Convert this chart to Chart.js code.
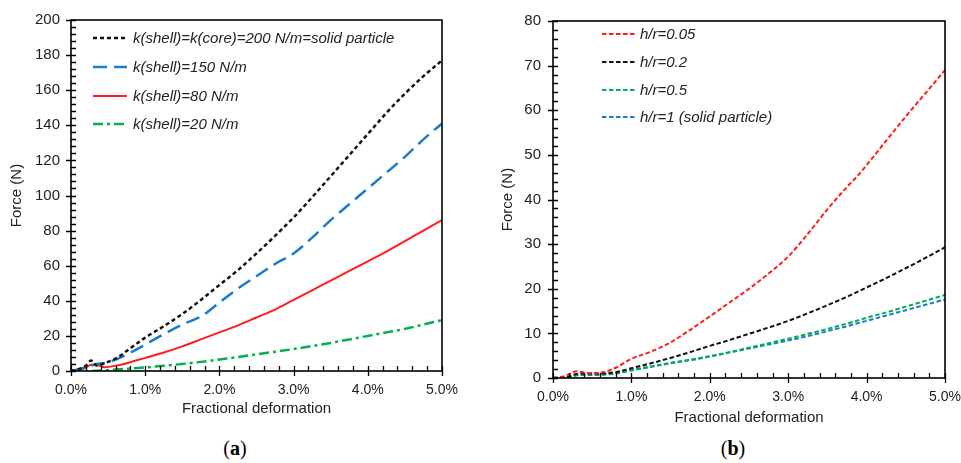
<!DOCTYPE html>
<html>
<head>
<meta charset="utf-8">
<script src="https://cdn.jsdelivr.net/npm/chart.js@4.4.1/dist/chart.umd.min.js"></script>
<style>
    html, body { margin: 0; padding: 0; background: #fff; overflow: hidden; }
    body { width: 961px; height: 463px; position: relative; }
    canvas { position: absolute; top: 0; }
    #chartA { left: 0; }
    #chartB { left: 480px; }
    .cap { position: absolute; top: 437px; font-family: "Liberation Serif", "DejaVu Serif", serif; font-size: 20px; color: #000; transform: translateX(-50%); }
</style>
</head>
<body>
<canvas id="chartA" width="480" height="420"></canvas>
<canvas id="chartB" width="520" height="430"></canvas>
<div class="cap" style="left:235px">(<b>a</b>)</div>
<div class="cap" style="left:733px">(<b>b</b>)</div>

<script>
// panel (a): fractional deformation in %, force in N
const xA = [0, 0.1, 0.2, 0.27, 0.35, 0.45, 0.6, 0.8, 1.0, 1.25, 1.5, 1.75, 2.0, 2.25, 2.5, 2.75, 3.0, 3.25, 3.5, 3.75, 4.0, 4.25, 4.5, 4.75, 5.0];
const solidA = [0, 1, 3, 6, 3, 4.5, 7, 13, 19, 25.5, 32.5, 40.5, 49, 57.5, 67, 77, 87.5, 99, 111, 123, 135, 147, 158, 168, 177];
const shell150 = [0, 1, 2, 3, 4, 4.5, 6.5, 10.5, 15, 21, 26.5, 31, 39, 47, 54, 61, 67, 76, 86, 95, 104, 113, 122, 132, 141];
const shell80 = [0, 0.5, 2, 3.5, 3.5, 2.2, 3, 5, 7.5, 10.5, 14, 18, 22, 26, 30.5, 35, 40.5, 46, 51.5, 57, 62.5, 68, 74, 80, 86];
const shell20 = [0, 0, 0, 0, 0.2, 0.4, 0.8, 1.5, 2, 3, 4, 5.2, 6.5, 8, 9.5, 11, 12.5, 14.2, 16, 18, 20, 22, 24, 26.5, 29];
const labelsA = ["k(shell)=k(core)=200 N/m=solid particle", "k(shell)=150 N/m", "k(shell)=80 N/m", "k(shell)=20 N/m"];

// panel (b)
const xB = [0, 0.1, 0.2, 0.3, 0.4, 0.5, 0.6, 0.7, 0.8, 1.0, 1.25, 1.5, 1.75, 2.0, 2.25, 2.5, 2.75, 3.0, 3.25, 3.5, 3.75, 3.87, 4.0, 4.25, 4.5, 4.75, 5.0];
const hr005 = [0, 0.2, 0.8, 1.5, 1.2, 1.0, 1.2, 1.6, 2.3, 4.3, 5.9, 8.0, 10.8, 13.8, 16.9, 20.0, 23.4, 27.2, 32.3, 37.8, 42.8, 45, 47.7, 53.2, 58.6, 63.8, 69];
const hr02 = [0, 0.1, 0.3, 0.9, 1.0, 1.0, 1.0, 1.1, 1.3, 2.2, 3.3, 4.5, 5.8, 7.2, 8.5, 9.9, 11.3, 12.8, 14.5, 16.3, 18.2, 19.2, 20.3, 22.4, 24.6, 26.9, 29.3];
const hr05 = [0, 0.1, 0.2, 0.6, 0.8, 0.8, 0.8, 0.9, 1.1, 1.8, 2.6, 3.4, 4.1, 4.9, 5.8, 6.8, 7.8, 8.8, 9.9, 11.0, 12.2, 12.8, 13.5, 14.7, 16.0, 17.3, 18.6];
const hr1 = [0, 0.1, 0.2, 0.6, 0.7, 0.7, 0.7, 0.8, 1.0, 1.7, 2.5, 3.3, 4.0, 4.8, 5.7, 6.6, 7.5, 8.4, 9.4, 10.5, 11.6, 12.2, 12.8, 14.0, 15.2, 16.4, 17.6];
const labelsB = ["h/r=0.05", "h/r=0.2", "h/r=0.5", "h/r=1 (solid particle)"];

const xTicks = [0, 1, 2, 3, 4, 5];

function pts(xs, ys) {
    return xs.map((x, i) => ({ x: x, y: ys[i] }));
}

function line(label, xs, ys, color, width, dash) {
    return {
        label: label,
        data: pts(xs, ys),
        borderColor: color,
        borderWidth: width,
        borderDash: dash,
        pointRadius: 0,
        cubicInterpolationMode: "monotone",
        fill: false
    };
}

// frame, inside minor ticks and crossing major ticks
const frameTicks = {
    id: "frameTicks",
    afterDraw(chart, args, opts) {
        const ctx = chart.ctx;
        const a = chart.chartArea;
        const xs = chart.scales.x, ys = chart.scales.y;
        ctx.save();
        ctx.strokeStyle = "#000";
        ctx.lineWidth = 1.3;
        ctx.beginPath();
        for (let i = 0; i <= 25; i++) {
            const v = i * 0.2;
            const px = Math.round(xs.getPixelForValue(v)) + 0.5;
            const major = i % 5 === 0;
            ctx.moveTo(px, a.bottom - 5);
            ctx.lineTo(px, a.bottom + (major ? 5 : 0));
        }
        const n = Math.round(opts.yMax / opts.yMinor);
        const per = Math.round(opts.yMajor / opts.yMinor);
        for (let i = 0; i <= n; i++) {
            const py = Math.round(ys.getPixelForValue(i * opts.yMinor)) + 0.5;
            const major = i % per === 0;
            ctx.moveTo(a.left + 5, py);
            ctx.lineTo(a.left - (major ? 5 : 0), py);
        }
        ctx.stroke();
        ctx.lineWidth = 1.6;
        ctx.strokeRect(a.left, a.top, a.right - a.left, a.bottom - a.top);
        ctx.restore();
    }
};

// legend drawn inside the plot area
const innerLegend = {
    id: "innerLegend",
    afterDraw(chart, args, opts) {
        const ctx = chart.ctx;
        ctx.save();
        ctx.font = "italic 15px 'Liberation Sans', Arial, sans-serif";
        ctx.textBaseline = "middle";
        ctx.fillStyle = "#222";
        chart.data.datasets.forEach((ds, i) => {
            const y = opts.rows[i];
            ctx.strokeStyle = ds.borderColor;
            ctx.lineWidth = ds.borderWidth;
            ctx.setLineDash(ds.borderDash || []);
            ctx.beginPath();
            ctx.moveTo(opts.x0, y);
            ctx.lineTo(opts.x1, y);
            ctx.stroke();
            ctx.setLineDash([]);
            ctx.fillText(ds.label, opts.tx, y + 1);
        });
        ctx.restore();
    }
};

function makeOptions(cfg) {
    const xFont = { family: "'Liberation Sans', Arial, sans-serif", size: 14 };
    const yFont = { family: "'Liberation Sans', Arial, sans-serif", size: 15 };
    const titleFont = { family: "'Liberation Sans', Arial, sans-serif", size: 15 };
    return {
        responsive: false,
        animation: false,
        layout: { padding: { top: cfg.top, right: cfg.right, left: 0, bottom: 0 } },
        plugins: {
            legend: { display: false },
            tooltip: { enabled: false },
            frameTicks: { yMax: cfg.yMax, yMinor: cfg.yMinor, yMajor: cfg.yStep },
            innerLegend: cfg.legend
        },
        scales: {
            x: {
                type: "linear",
                min: 0,
                max: 5,
                afterBuildTicks: s => { s.ticks = xTicks.map(v => ({ value: v })); },
                afterFit: s => { s.height = cfg.xHeight; },
                grid: { display: false, drawTicks: false },
                border: { display: false },
                ticks: {
                    color: "#222",
                    font: xFont,
                    padding: 11,
                    maxRotation: 0,
                    autoSkip: false,
                    callback: v => v.toFixed(1) + "%"
                },
                title: { display: true, text: "Fractional deformation", color: "#222", font: titleFont, padding: { top: 0, bottom: cfg.xTitlePad } }
            },
            y: {
                min: 0,
                max: cfg.yMax,
                afterFit: s => { s.width = cfg.yWidth; },
                grid: { display: false, drawTicks: false },
                border: { display: false },
                ticks: { stepSize: cfg.yStep, color: "#222", font: yFont, padding: cfg.yPad },
                title: { display: true, text: "Force (N)", color: "#222", font: titleFont, padding: { top: cfg.yTitlePad, bottom: 0 } }
            }
        }
    };
}

new Chart(document.getElementById("chartA"), {
    type: "line",
    data: {
        datasets: [
            line(labelsA[0], xA, solidA, "#111111", 2.5, [4, 3]),
            line(labelsA[1], xA, shell150, "#1a7ccc", 2.5, [14, 7]),
            line(labelsA[2], xA, shell80, "#ff1c1c", 2, []),
            line(labelsA[3], xA, shell20, "#00b050", 2.5, [10, 4, 3, 4])
        ]
    },
    options: makeOptions({
        top: 17, right: 38, xHeight: 49, yWidth: 71, yMax: 200, yStep: 20, yMinor: 4,
        yPad: 11, xTitlePad: 2, yTitlePad: 8,
        legend: { x0: 93, x1: 127, tx: 133, rows: [38, 67, 96, 124] }
    }),
    plugins: [frameTicks, innerLegend]
});

new Chart(document.getElementById("chartB"), {
    type: "line",
    data: {
        datasets: [
            line(labelsB[0], xB, hr005, "#ff1c1c", 2, [4.5, 2.5]),
            line(labelsB[1], xB, hr02, "#111111", 2, [4.5, 2.5]),
            line(labelsB[2], xB, hr05, "#00b050", 2, [4.5, 2.5]),
            line(labelsB[3], xB, hr1, "#1a7ccc", 2, [4.5, 2.5])
        ]
    },
    options: makeOptions({
        top: 14, right: 55, xHeight: 52, yWidth: 73, yMax: 80, yStep: 10, yMinor: 2,
        yPad: 12, xTitlePad: 3, yTitlePad: 19,
        legend: { x0: 122, x1: 156, tx: 160, rows: [34, 62, 90, 117] }
    }),
    plugins: [frameTicks, innerLegend]
});
</script>
</body>
</html>
